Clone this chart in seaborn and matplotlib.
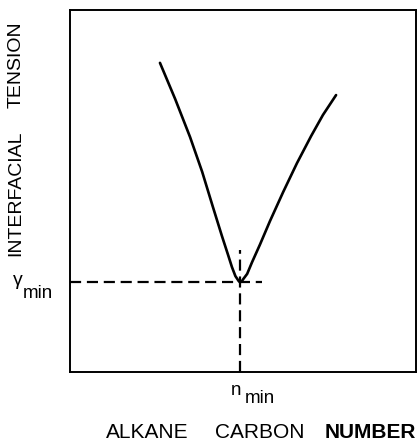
import matplotlib
matplotlib.use("Agg")
import matplotlib.pyplot as plt
import seaborn as sns
import pandas as pd

# Schematic interfacial tension vs. alkane carbon number (arbitrary units)
carbon_number = [2.60, 3.04, 3.47, 3.82, 4.13, 4.39, 4.57, 4.68, 4.78, 4.87, 4.91,
                 4.96, 5.01, 5.12, 5.26, 5.49, 5.78, 6.16, 6.56, 6.97, 7.31, 7.69]
tension = [8.54, 7.54, 6.49, 5.53, 4.56, 3.76, 3.23, 2.90, 2.65, 2.52, 2.48,
           2.50, 2.57, 2.71, 3.03, 3.52, 4.17, 4.97, 5.77, 6.52, 7.10, 7.65]
n_min = 4.91
gamma_min = 2.48
h_guide_end = 5.55
v_guide_start = 3.37

df = pd.DataFrame({"n": carbon_number, "gamma": tension})

sns.set_style("white")
plt.rcParams["font.family"] = ["Liberation Sans", "DejaVu Sans"]

fig = plt.figure(figsize=(4.2, 4.42), dpi=100)
ax = fig.add_axes([70 / 420, 1 - 372 / 442, 346 / 420, 362 / 442])

sns.lineplot(data=df, x="n", y="gamma", ax=ax, color="black", linewidth=1.9,
             sort=False, estimator=None)
ax.lines[0].set_solid_joinstyle("round")
ax.lines[0].set_solid_capstyle("round")

dash = (0, (5, 2.6))
ax.plot([0, h_guide_end], [gamma_min, gamma_min], color="black", lw=1.6, linestyle=dash)
ax.plot([n_min, n_min], [0, v_guide_start], color="black", lw=1.6, linestyle=dash)

ax.set_xlim(0, 10)
ax.set_ylim(0, 10)
ax.set_xticks([n_min])
ax.set_yticks([gamma_min])
ax.set_xticklabels([])
ax.set_yticklabels([])
ax.set_xlabel("")
ax.set_ylabel("")
ax.tick_params(axis="both", direction="out", length=6, width=1.4, color="black")
for sp in ax.spines.values():
    sp.set_color("black")
    sp.set_linewidth(1.4)


def ftext(px, py, s, **kw):
    fig.text(px / 420, 1 - py / 442, s, color="black", **kw)


# axis titles
ftext(16, 193, "INTERFACIAL", rotation=90, ha="center", va="center", fontsize=14)
ftext(16, 65, "TENSION", rotation=90, ha="center", va="center", fontsize=14)
ftext(147, 438, "ALKANE", ha="center", va="baseline", fontsize=15)
ftext(260, 438, "CARBON", ha="center", va="baseline", fontsize=15)
ftext(370, 438, "NUMBER", ha="center", va="baseline", fontsize=15, fontweight="bold")

# tick annotations
ftext(18, 285, "γ", ha="center", va="baseline", fontsize=14)
ftext(38, 298, "min", ha="center", va="baseline", fontsize=13.5)
ftext(236, 395, "n", ha="center", va="baseline", fontsize=13.5)
ftext(260, 403, "min", ha="center", va="baseline", fontsize=13.5)

fig.savefig("out.png", dpi=100)
